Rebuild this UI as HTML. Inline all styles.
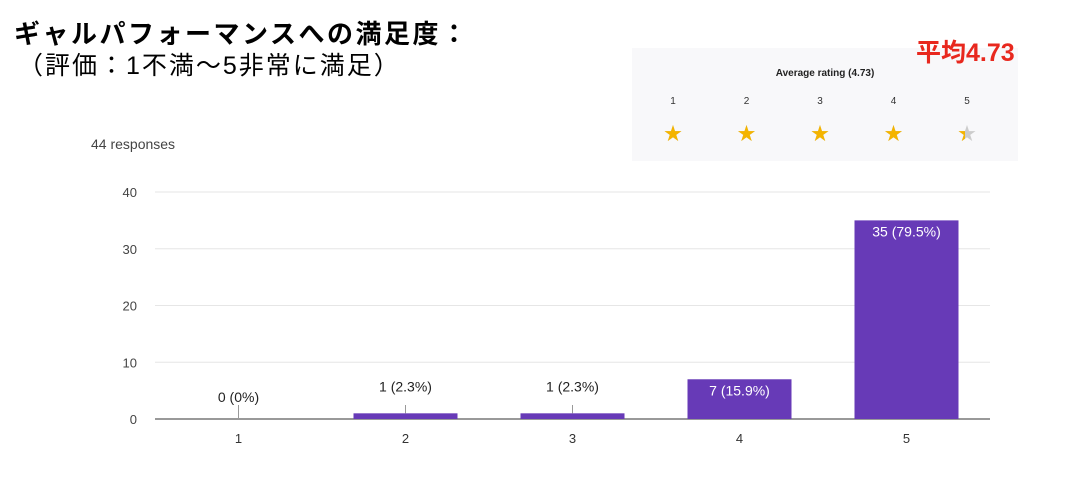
<!DOCTYPE html>
<html><head><meta charset="utf-8"><style>
body{margin:0;width:1066px;height:504px;background:#fff;overflow:hidden;font-family:"Liberation Sans","Noto Sans CJK JP",sans-serif;position:relative}
.abs{position:absolute}
</style></head><body>
<div class="abs" style="left:14px;top:14px;font-size:26px;font-weight:bold;color:#000;letter-spacing:2.5px;white-space:nowrap">ギャルパフォーマンスへの満足度：</div>
<div class="abs" style="left:18px;top:46px;font-size:25px;color:#000;letter-spacing:2px;white-space:nowrap">（評価：1不満〜5非常に満足）</div>
<div class="abs" style="left:632px;top:48px;width:386px;height:113px;background:#f8f8fa">
  <div class="abs" style="left:0;width:386px;top:20px;text-align:center;font-size:10px;font-weight:bold;color:#222">Average rating (4.73)</div>
  <div id="stars"></div>
</div>
<div class="abs" style="left:916px;top:33px;font-size:25px;font-weight:bold;color:#e8281e;z-index:5">平均4.73</div>
<div class="abs" style="left:91px;top:136px;font-size:14px;color:#444">44 responses</div>
<svg class="abs" style="left:0;top:0" width="1066" height="504" id="chart"></svg>
<script>
const categories=["1","2","3","4","5"];
const counts=[0,1,1,7,35];
const valueLabels=["0 (0%)","1 (2.3%)","1 (2.3%)","7 (15.9%)","35 (79.5%)"];
const yTicks=[0,10,20,30,40];
const ns="http://www.w3.org/2000/svg";
const svg=document.getElementById('chart');
const x0=155,x1=990,yB=419,yT=192,yMax=40;
const y=v=>yB-(yB-yT)*v/yMax;
const step=(x1-x0)/categories.length;
const xc=i=>x0+step*(i+0.5);
const bw=104;
function mk(t,a){const e=document.createElementNS(ns,t);for(const k in a)e.setAttribute(k,a[k]);svg.appendChild(e);return e;}
yTicks.forEach(t=>{
  const l=mk('line',{x1:x0,x2:x1,y1:y(t),y2:y(t),stroke:t===0?'#333':'#e6e6e6','stroke-width':1});
  
  
  const tx=mk('text',{x:137,y:y(t)+5,'text-anchor':'end','font-size':13,fill:'#444','font-family':'Liberation Sans'});
  tx.textContent=t;
  
  
});
categories.forEach((c,i)=>{
  const v=counts[i],top=y(v),h=yB-top;
  const r=mk('rect',{x:xc(i)-bw/2,y:top,width:bw,height:h,fill:'#673ab7'});
  
  
  const tx=mk('text',{x:xc(i),y:yB+24,'text-anchor':'middle','font-size':13,fill:'#333','font-family':'Liberation Sans'});
  tx.textContent=c;
  
  
  const inside=h>30;
  if(!inside){
    const ln=mk('line',{x1:xc(i),x2:xc(i),y1:yB-14,y2:top,stroke:'#999','stroke-width':1});
    
    
  }
  const lb=mk('text',{x:xc(i),y:inside?top+16:(v===0?yB-17:top-22),'text-anchor':'middle','font-size':14,fill:inside?'#fff':'#222','font-family':'Liberation Sans'});
  lb.textContent=valueLabels[i];
  
  
});
const avg=4.73;
const sd=document.getElementById('stars');
categories.forEach((c,i)=>{
  const cx=41+i*73.5;
  const n=document.createElement('div');
  n.className='abs';n.textContent=c;
  n.style.cssText=`left:${cx-10}px;width:20px;top:48px;text-align:center;font-size:10px;color:#333`;
  
  
  sd.appendChild(n);
  const fill=Math.max(0,Math.min(1,avg-i));
  const s=document.createElement('div');
  s.className='abs';
  s.style.cssText=`left:${cx-9}px;top:77px;width:18px;height:18px;font-size:18px;line-height:18px;color:#ccc`;
  s.innerHTML=`★<span style="position:absolute;display:block;left:0;top:0;height:18px;white-space:nowrap;width:${fill>=1?18:fill*10}px;overflow:hidden;color:#f4b400">★</span>`;
  
  
  sd.appendChild(s);
});
</script>
</body></html>
